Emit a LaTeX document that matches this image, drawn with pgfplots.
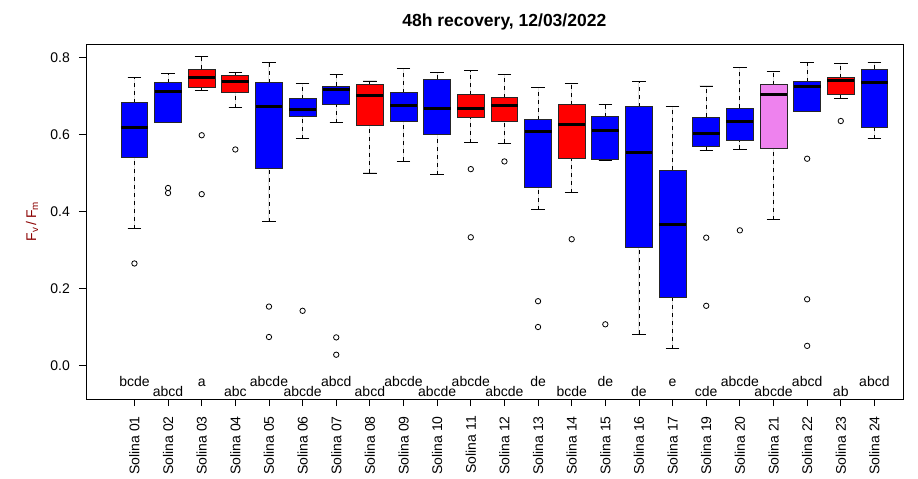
\documentclass[border=0pt]{standalone}
\usepackage{fontspec}
\setmainfont{Liberation Sans}
\usepackage{pgfplots}
\pgfplotsset{compat=1.18}
\usepgfplotslibrary{statistics}
\definecolor{rblue}{RGB}{0,0,255}
\definecolor{rred}{RGB}{255,0,0}
\definecolor{rviolet}{RGB}{238,130,238}
\definecolor{rdarkred}{RGB}{139,0,0}
\pgfplotsset{
  rb/.style={draw=black!85, fill=#1, line width=0.9pt, solid,
    boxplot/draw direction=y,
    mark=o, mark size=2.7pt, mark options={black, fill=none, solid, line width=0.8pt}},
}
\begin{document}
\begin{tikzpicture}
\useasboundingbox (-86pt,-80pt) rectangle (832pt,399pt);
\begin{axis}[
  at={(0,0)}, anchor=south west,
  scale only axis, width=817pt, height=355pt,
  xmin=-0.44, xmax=23.85, ymin=-0.086, ymax=0.836,
  clip=false,
  axis line style={black, line width=0.8pt},
  tick style={black, line width=0.8pt},
  tick align=outside, major tick length=7pt,
  xtick pos=left, ytick pos=left,
  xtick={1,...,23},
  xticklabels={Solina 01,Solina 02,Solina 03,Solina 04,Solina 05,Solina 06,Solina 07,Solina 08,Solina 09,Solina 10,Solina 11,Solina 12,Solina 13,Solina 14,Solina 15,Solina 16,Solina 17,Solina 19,Solina 20,Solina 21,Solina 22,Solina 23,Solina 24},
  xticklabel style={rotate=90, anchor=east, inner sep=0pt, font=\fontsize{14}{16}\selectfont},
  xticklabel shift=10pt,
  ytick={0,0.2,0.4,0.6,0.8},
  yticklabel style={anchor=east, inner sep=0pt, font=\fontsize{14}{16}\selectfont,
    /pgf/number format/.cd, fixed, fixed zerofill, precision=1, assume math mode=true},
  yticklabel shift=9pt,
  every axis title/.style={at={(axis description cs:0.512,1)}, anchor=base, yshift=17.3pt,
    font=\fontsize{17.5}{20}\selectfont\bfseries},
  title={48h recovery, 12/03/2022},
  every axis y label/.style={at={(axis description cs:-0.066,0.5)}, rotate=90, anchor=center,
    font=\fontsize{14}{16}\selectfont, text=rdarkred},
  ylabel={F\textsubscript{v}\,/\,F\textsubscript{m}},
  boxplot/draw direction=y,
  boxplot/box extend=0.8,
  boxplot/whisker extend=0.4,
  boxplot/every median/.style={black, line width=3pt},
  boxplot/draw/lower whisker/.code={%
    \draw[black, line width=0.9pt, dash pattern=on 4pt off 4pt]
      (boxplot box cs:\pgfplotsboxplotvalue{lower whisker},0.5) -- (boxplot box cs:\pgfplotsboxplotvalue{lower quartile},0.5);
    \draw[black, line width=0.9pt]
      (boxplot whisker cs:\pgfplotsboxplotvalue{lower whisker},0) -- (boxplot whisker cs:\pgfplotsboxplotvalue{lower whisker},1);
  },
  boxplot/draw/upper whisker/.code={%
    \draw[black, line width=0.9pt, dash pattern=on 4pt off 4pt]
      (boxplot box cs:\pgfplotsboxplotvalue{upper quartile},0.5) -- (boxplot box cs:\pgfplotsboxplotvalue{upper whisker},0.5);
    \draw[black, line width=0.9pt]
      (boxplot whisker cs:\pgfplotsboxplotvalue{upper whisker},0) -- (boxplot whisker cs:\pgfplotsboxplotvalue{upper whisker},1);
  },
]
% 01
\addplot[rb=rblue, boxplot prepared={draw position=1, lower whisker=0.356, lower quartile=0.541, median=0.618, upper quartile=0.683, upper whisker=0.748}]
  table[row sep=\\, y index=0]{data\\0.266\\};
% 02
\addplot[rb=rblue, boxplot prepared={draw position=2, lower whisker=0.631, lower quartile=0.631, median=0.712, upper quartile=0.735, upper whisker=0.760}]
  table[row sep=\\, y index=0]{data\\0.462\\0.449\\};
% 03
\addplot[rb=rred, boxplot prepared={draw position=3, lower whisker=0.716, lower quartile=0.722, median=0.750, upper quartile=0.770, upper whisker=0.804}]
  table[row sep=\\, y index=0]{data\\0.599\\0.446\\};
% 04
\addplot[rb=rred, boxplot prepared={draw position=4, lower whisker=0.671, lower quartile=0.711, median=0.738, upper quartile=0.754, upper whisker=0.762}]
  table[row sep=\\, y index=0]{data\\0.562\\};
% 05
\addplot[rb=rblue, boxplot prepared={draw position=5, lower whisker=0.374, lower quartile=0.512, median=0.673, upper quartile=0.735, upper whisker=0.787}]
  table[row sep=\\, y index=0]{data\\0.154\\0.075\\};
% 06
\addplot[rb=rblue, boxplot prepared={draw position=6, lower whisker=0.590, lower quartile=0.647, median=0.667, upper quartile=0.694, upper whisker=0.734}]
  table[row sep=\\, y index=0]{data\\0.143\\};
% 07
\addplot[rb=rblue, boxplot prepared={draw position=7, lower whisker=0.632, lower quartile=0.680, median=0.718, upper quartile=0.726, upper whisker=0.756}]
  table[row sep=\\, y index=0]{data\\0.074\\0.029\\};
% 08
\addplot[rb=rred, boxplot prepared={draw position=8, lower whisker=0.501, lower quartile=0.624, median=0.701, upper quartile=0.732, upper whisker=0.740}]
  coordinates {};
% 09
\addplot[rb=rblue, boxplot prepared={draw position=9, lower whisker=0.531, lower quartile=0.634, median=0.675, upper quartile=0.709, upper whisker=0.773}]
  coordinates {};
% 10
\addplot[rb=rblue, boxplot prepared={draw position=10, lower whisker=0.497, lower quartile=0.601, median=0.669, upper quartile=0.745, upper whisker=0.762}]
  coordinates {};
% 11
\addplot[rb=rred, boxplot prepared={draw position=11, lower whisker=0.580, lower quartile=0.645, median=0.669, upper quartile=0.704, upper whisker=0.767}]
  table[row sep=\\, y index=0]{data\\0.511\\0.334\\};
% 12
\addplot[rb=rred, boxplot prepared={draw position=12, lower whisker=0.578, lower quartile=0.634, median=0.676, upper quartile=0.697, upper whisker=0.756}]
  table[row sep=\\, y index=0]{data\\0.531\\};
% 13
\addplot[rb=rblue, boxplot prepared={draw position=13, lower whisker=0.406, lower quartile=0.464, median=0.608, upper quartile=0.639, upper whisker=0.722}]
  table[row sep=\\, y index=0]{data\\0.168\\0.101\\};
% 14
\addplot[rb=rred, boxplot prepared={draw position=14, lower whisker=0.450, lower quartile=0.540, median=0.627, upper quartile=0.678, upper whisker=0.734}]
  table[row sep=\\, y index=0]{data\\0.329\\};
% 15
\addplot[rb=rblue, boxplot prepared={draw position=15, lower whisker=0.534, lower quartile=0.536, median=0.611, upper quartile=0.647, upper whisker=0.678}]
  table[row sep=\\, y index=0]{data\\0.108\\};
% 16
\addplot[rb=rblue, boxplot prepared={draw position=16, lower whisker=0.082, lower quartile=0.307, median=0.555, upper quartile=0.673, upper whisker=0.738}]
  coordinates {};
% 17
\addplot[rb=rblue, boxplot prepared={draw position=17, lower whisker=0.044, lower quartile=0.179, median=0.368, upper quartile=0.508, upper whisker=0.673}]
  coordinates {};
% 19
\addplot[rb=rblue, boxplot prepared={draw position=18, lower whisker=0.560, lower quartile=0.569, median=0.603, upper quartile=0.646, upper whisker=0.727}]
  table[row sep=\\, y index=0]{data\\0.333\\0.156\\};
% 20
\addplot[rb=rblue, boxplot prepared={draw position=19, lower whisker=0.562, lower quartile=0.585, median=0.634, upper quartile=0.669, upper whisker=0.776}]
  table[row sep=\\, y index=0]{data\\0.352\\};
% 21
\addplot[rb=rviolet, boxplot prepared={draw position=20, lower whisker=0.380, lower quartile=0.566, median=0.704, upper quartile=0.730, upper whisker=0.764}]
  coordinates {};
% 22
\addplot[rb=rblue, boxplot prepared={draw position=21, lower whisker=0.662, lower quartile=0.662, median=0.725, upper quartile=0.738, upper whisker=0.787}]
  table[row sep=\\, y index=0]{data\\0.538\\0.173\\0.052\\};
% 23
\addplot[rb=rred, boxplot prepared={draw position=22, lower whisker=0.694, lower quartile=0.706, median=0.740, upper quartile=0.748, upper whisker=0.785}]
  table[row sep=\\, y index=0]{data\\0.636\\};
% 24
\addplot[rb=rblue, boxplot prepared={draw position=23, lower whisker=0.590, lower quartile=0.620, median=0.737, upper quartile=0.771, upper whisker=0.787}]
  coordinates {};
% letters
\addplot[draw=none, mark=none, nodes near coords, point meta=explicit symbolic,
  every node near coord/.style={anchor=base, inner sep=0pt, font=\fontsize{14}{16}\selectfont, text=black}]
  coordinates {
  (1,-0.0538)[bcde] (2,-0.0798)[abcd] (3,-0.0538)[a] (4,-0.0798)[abc]
  (5,-0.0538)[abcde] (6,-0.0798)[abcde] (7,-0.0538)[abcd] (8,-0.0798)[abcd]
  (9,-0.0538)[abcde] (10,-0.0798)[abcde] (11,-0.0538)[abcde] (12,-0.0798)[abcde]
  (13,-0.0538)[de] (14,-0.0798)[bcde] (15,-0.0538)[de] (16,-0.0798)[de]
  (17,-0.0538)[e] (18,-0.0798)[cde] (19,-0.0538)[abcde] (20,-0.0798)[abcde]
  (21,-0.0538)[abcd] (22,-0.0798)[ab] (23,-0.0538)[abcd]
  };
\end{axis}
\end{tikzpicture}
\end{document}
